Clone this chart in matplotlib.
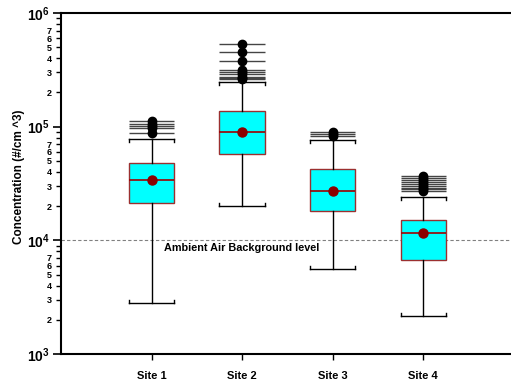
import math
import matplotlib
matplotlib.use("Agg")
import matplotlib.pyplot as plt
from matplotlib.ticker import LogLocator, FuncFormatter

plt.rcParams['font.family'] = ['Liberation Sans', 'DejaVu Sans']
plt.rcParams['mathtext.fontset'] = 'custom'
plt.rcParams['mathtext.rm'] = 'Liberation Sans'
plt.rcParams['mathtext.bf'] = 'Liberation Sans:bold'

# data
sites = ['Site 1', 'Site 2', 'Site 3', 'Site 4']
q1 = [21200, 58000, 18200, 6700]
medians = [33900, 89000, 27000, 11500]
q3 = [47900, 136000, 42100, 15100]
whisker_low = [2830, 20000, 5630, 2160]
whisker_high = [78500, 248000, 76500, 24000]
means = [34000, 89000, 27000, 11600]
outliers_1 = [87600, 98000, 101000, 106000, 113000]
outliers_2 = [260000, 268000, 276000, 289000, 303000, 316000, 376000, 453000, 533000]
outliers_3 = [82700, 86000, 89100]
outliers_4 = [27000, 28000, 29000, 30000, 31000, 32500, 34000, 35500, 37000]
outliers = [outliers_1, outliers_2, outliers_3, outliers_4]
background_level = 1e4

positions = [1, 2, 3, 4]
box_width = 0.5

fig = plt.figure(figsize=(5.11, 3.81), dpi=100)
ax = fig.add_axes([0.1194, 0.0709, 0.886, 0.895])

stats = []
for i in range(len(sites)):
    stats.append({
        'label': sites[i], 'q1': q1[i], 'med': medians[i], 'q3': q3[i],
        'whislo': whisker_low[i], 'whishi': whisker_high[i],
        'mean': means[i], 'fliers': [],
    })

ax.bxp(stats, positions=positions, widths=box_width, patch_artist=True,
       showmeans=True, showfliers=False, capwidths=box_width,
       boxprops=dict(facecolor='#00FFFF', edgecolor='#9B3030', linewidth=1.0),
       medianprops=dict(color='#A00000', linewidth=1.2),
       whiskerprops=dict(color='black', linewidth=1.0),
       capprops=dict(color='black', linewidth=1.0),
       meanprops=dict(marker='o', markerfacecolor='#8B0000',
                      markeredgecolor='#8B0000', markersize=6.5))

# cap brackets pointing towards the box
tick_factor = 1.065
for i, x in enumerate(positions):
    for xe in (x - box_width / 2, x + box_width / 2):
        ax.plot([xe, xe], [whisker_high[i], whisker_high[i] / tick_factor],
                color='black', lw=1.0)
        ax.plot([xe, xe], [whisker_low[i], whisker_low[i] * tick_factor],
                color='black', lw=1.0)

# outliers: lines across box width plus dots
for i, x in enumerate(positions):
    ax.hlines(outliers[i], x - box_width / 2, x + box_width / 2,
              colors='#444444', linewidth=1.0, zorder=3)
    ax.plot([x] * len(outliers[i]), outliers[i], 'o', color='black',
            markersize=6, zorder=4)

ax.axhline(background_level, color='gray', linestyle='--', linewidth=0.8,
           dashes=(3, 2), zorder=1)
ax.text(2.0, background_level / 1.06, 'Ambient Air Background level',
        ha='center', va='top', fontsize=7.8, fontweight='bold')

ax.set_yscale('log')
ax.set_ylim(1e3, 1e6)
ax.set_xlim(0, 5)
ax.set_xticks(positions)
ax.set_xticklabels(sites, fontsize=8, fontweight='bold')

ax.yaxis.set_major_locator(LogLocator(base=10, numticks=10))
ax.yaxis.set_minor_locator(LogLocator(base=10, subs=range(2, 10), numticks=20))


def major_fmt(v, pos):
    return r'$\mathbf{10^{%d}}$' % round(math.log10(v))


def minor_fmt(v, pos):
    m = int(round(v / 10 ** math.floor(math.log10(v) + 1e-9)))
    return str(m) if m <= 7 else ''


ax.yaxis.set_major_formatter(FuncFormatter(major_fmt))
ax.yaxis.set_minor_formatter(FuncFormatter(minor_fmt))
ax.tick_params(axis='y', which='major', labelsize=10, length=6, width=1.2, pad=2)
ax.tick_params(axis='y', which='minor', labelsize=6.5, length=3.5, width=1.0, pad=3)
for lab in ax.yaxis.get_minorticklabels():
    lab.set_fontweight('bold')
ax.tick_params(axis='x', length=4, width=1.0, pad=8)

ax.set_ylabel('Concentration (#/cm ^3)', fontsize=8.5, fontweight='bold')
ax.yaxis.set_label_coords(-0.0795, 0.52)

ax.spines['right'].set_visible(False)
for s in ('left', 'bottom', 'top'):
    ax.spines[s].set_linewidth(1.5)

fig.savefig('out.png', dpi=100)
